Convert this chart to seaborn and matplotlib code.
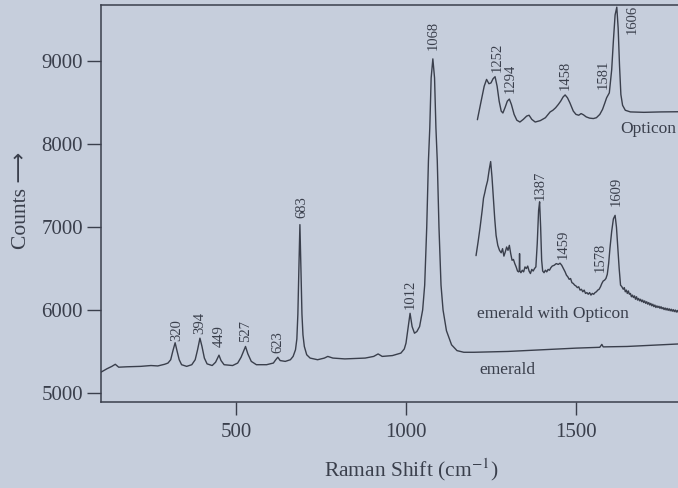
import matplotlib
matplotlib.use("Agg")
import matplotlib.pyplot as plt
import seaborn as sns
import pandas as pd

# ---------------- data ----------------
emerald_x = [103, 120, 135, 145, 155, 180, 220, 250, 270, 290, 300, 308, 314, 321, 327, 333, 340, 355,
             370, 380, 387, 394, 400, 407, 415, 430, 440, 450, 456, 465, 490, 505, 515, 528, 535, 545,
             560, 590, 610, 617, 623, 630, 645, 660, 668, 675, 679, 682, 685, 688, 691, 694, 697, 701,
             708, 718, 740, 760, 770, 785, 820, 880, 905, 918, 930, 960, 985, 995, 1000, 1006, 1012,
             1018, 1025, 1032, 1040, 1049, 1055, 1061, 1066, 1070, 1074, 1079, 1084, 1088, 1092, 1097,
             1103, 1109, 1119, 1134, 1150, 1170, 1200, 1300, 1400, 1500, 1570, 1576, 1580, 1650, 1750, 1800]
emerald_y = [5250, 5290, 5320, 5345, 5310, 5315, 5320, 5330, 5325, 5345, 5360, 5400, 5500, 5605, 5500,
             5400, 5340, 5320, 5340, 5400, 5520, 5660, 5560, 5420, 5350, 5330, 5370, 5455, 5390, 5340,
             5330, 5360, 5430, 5560, 5470, 5380, 5340, 5340, 5360, 5400, 5430, 5390, 5380, 5400, 5440,
             5520, 5650, 5950, 6500, 7030, 6500, 5950, 5700, 5560, 5460, 5420, 5400, 5420, 5440, 5420,
             5410, 5420, 5440, 5470, 5440, 5450, 5480, 5530, 5600, 5780, 5960, 5800, 5720, 5740, 5800,
             6000, 6300, 7000, 7800, 8200, 8800, 9030, 8800, 8200, 7800, 7000, 6300, 6000, 5750, 5580,
             5510, 5490, 5490, 5500, 5520, 5540, 5550, 5585, 5555, 5560, 5580, 5590]

opticon_x = [1210, 1220, 1230, 1237, 1244, 1250, 1256, 1262, 1268, 1274, 1280, 1285, 1292, 1298, 1304,
             1310, 1318, 1326, 1335, 1345, 1355, 1362, 1370, 1380, 1395, 1410, 1424, 1432, 1440, 1448,
             1455, 1462, 1468, 1475, 1482, 1487, 1492, 1500, 1508, 1515, 1522, 1530, 1540, 1551, 1560,
             1570, 1578, 1585, 1590, 1598, 1605, 1610, 1615, 1620, 1624, 1628, 1632, 1637, 1645, 1660,
             1700, 1750, 1800]
opticon_y = [8296, 8500, 8700, 8782, 8730, 8740, 8790, 8815, 8700, 8520, 8400, 8377, 8450, 8520, 8545,
             8480, 8360, 8290, 8268, 8300, 8340, 8350, 8300, 8268, 8285, 8320, 8390, 8410, 8440, 8480,
             8520, 8570, 8595, 8560, 8500, 8450, 8400, 8360, 8350, 8370, 8355, 8330, 8315, 8310, 8320,
             8360, 8420, 8500, 8560, 8620, 8900, 9250, 9560, 9654, 9400, 8950, 8600, 8470, 8410, 8390,
             8385, 8390, 8392]

mix_x = [1206, 1212, 1218, 1224, 1228, 1232, 1235, 1240, 1245, 1249, 1253, 1257, 1261, 1265, 1270, 1275,
         1280, 1284, 1288, 1292, 1296, 1300, 1304, 1308, 1312, 1316, 1320, 1324, 1328, 1331, 1333, 1334,
         1335, 1338, 1342, 1346, 1350, 1354, 1358, 1362, 1366, 1370, 1374, 1378, 1382, 1386, 1390, 1393,
         1396, 1399, 1402, 1406, 1410, 1414, 1418, 1422, 1426, 1430, 1436, 1442, 1448, 1453, 1458, 1463,
         1468, 1472, 1476, 1480, 1484, 1488, 1492, 1496, 1500, 1504, 1508, 1512, 1516, 1520, 1524, 1528,
         1532, 1536, 1540, 1544, 1548, 1552, 1556, 1560, 1564, 1568, 1572, 1576, 1580, 1584, 1588, 1592,
         1596, 1600, 1605, 1610, 1615, 1619, 1623, 1627, 1631, 1635, 1639, 1642, 1645, 1648, 1651, 1654,
         1657, 1660, 1663, 1666, 1669, 1672, 1675, 1678, 1681, 1684, 1687, 1690, 1693, 1696, 1699, 1702,
         1705, 1708, 1711, 1714, 1717, 1720, 1723, 1726, 1729, 1732, 1735, 1738, 1741, 1744, 1747, 1750,
         1753, 1756, 1759, 1762, 1765, 1768, 1771, 1774, 1777, 1780, 1783, 1786, 1789, 1792, 1795, 1798,
         1801]
mix_y = [6656, 6820, 7000, 7200, 7350, 7420, 7480, 7560, 7700, 7791, 7600, 7350, 7100, 6900, 6780, 6720,
         6690, 6740, 6650, 6700, 6760, 6720, 6780, 6680, 6600, 6610, 6560, 6520, 6470, 6460, 6470, 6680,
         6470, 6450, 6480, 6460, 6520, 6500, 6530, 6470, 6440, 6490, 6470, 6500, 6520, 6800, 7200, 7305,
         7000, 6600, 6470, 6450, 6480, 6460, 6490, 6480, 6510, 6530, 6540, 6560, 6550, 6565, 6540, 6500,
         6460, 6420, 6400, 6370, 6380, 6330, 6320, 6300, 6290, 6270, 6280, 6240, 6250, 6220, 6240, 6200,
         6210, 6190, 6210, 6180, 6200, 6190, 6210, 6220, 6240, 6250, 6280, 6320, 6350, 6360, 6380, 6430,
         6560, 6750, 6950, 7100, 7142, 7000, 6750, 6500, 6300, 6280, 6250, 6270, 6220, 6240, 6200, 6230,
         6190, 6200, 6160, 6180, 6150, 6170, 6130, 6160, 6120, 6140, 6110, 6130, 6100, 6120, 6090, 6110,
         6080, 6100, 6070, 6090, 6060, 6080, 6050, 6070, 6040, 6060, 6030, 6050, 6030, 6045, 6020, 6040,
         6015, 6030, 6005, 6025, 6000, 6020, 5995, 6015, 5990, 6010, 5985, 6005, 5980, 6000, 5975, 5995,
         5970]

emerald_labels = ["320", "394", "449", "527", "623", "683", "1012", "1068"]
opticon_labels = ["1252", "1294", "1458", "1581"]
opticon_top_label = "1606"
mix_labels = ["1387", "1459", "1578", "1609"]
series_names = ["emerald", "emerald with Opticon", "Opticon"]
y_ticks = [5000, 6000, 7000, 8000, 9000]
x_ticks = [500, 1000, 1500]

# ---------------- layout / style ----------------
emerald_label_x = [325, 394, 450, 528, 622, 693, 1012, 1080]
emerald_label_y = [5627, 5708, 5550, 5608, 5486, 7106, 6012, 9135]
opticon_label_x = [1267, 1306, 1468, 1580]
opticon_label_y = [8868, 8624, 8649, 8661]
mix_label_x = [1394, 1462, 1571, 1618]
mix_label_y = [7325, 6620, 6462, 7252]

BG = "#c6cedc"
INK = "#3a3f4c"

sns.set_theme(style="white", rc={"axes.facecolor": BG, "figure.facecolor": BG})
plt.rcParams["font.family"] = ["Liberation Serif", "DejaVu Sans"]
plt.rcParams["mathtext.fontset"] = "stix"

fig = plt.figure(figsize=(6.78, 4.88), dpi=100)
ax = fig.add_axes([101 / 678, (488 - 402) / 488, 1 - 101 / 678, (402 - 5) / 488])

for xs, ys in [(emerald_x, emerald_y), (opticon_x, opticon_y), (mix_x, mix_y)]:
    df = pd.DataFrame({"shift": xs, "counts": ys})
    sns.lineplot(data=df, x="shift", y="counts", ax=ax, color=INK, linewidth=1.0,
                 estimator=None, sort=False)

ax.set_xlim(103, 1800)
ax.set_ylim(4890, 9680)
ax.set_xticks(x_ticks)
ax.set_yticks(y_ticks)
ax.set_xticklabels([str(t) for t in x_ticks])
ax.set_yticklabels([str(t) for t in y_ticks])
ax.tick_params(axis="y", direction="out", length=10, width=1.0, pad=3, labelsize=15,
               colors=INK, left=True)
ax.tick_params(axis="x", direction="out", length=9, width=1.0, pad=6, labelsize=15,
               colors=INK, bottom=True)

for side in ["left", "bottom", "top"]:
    ax.spines[side].set_color(INK)
    ax.spines[side].set_linewidth(1.1)
ax.spines["right"].set_visible(False)

ax.set_xlabel(r"Raman Shift (cm$^{-1}$)", fontsize=15.5, color=INK, va="center")
ax.xaxis.set_label_coords((411 - 101) / 577, (402 - 470) / 397)
ax.set_ylabel("Counts \u27f6", fontsize=15.5, color=INK, va="center")
ax.yaxis.set_label_coords((22 - 101) / 577, (402 - 200) / 397)

lab_kw = dict(rotation=90, ha="center", va="bottom", fontsize=10.5, color=INK)
for t, x, y in zip(emerald_labels, emerald_label_x, emerald_label_y):
    ax.text(x, y, t, **lab_kw)
for t, x, y in zip(opticon_labels, opticon_label_x, opticon_label_y):
    ax.text(x, y, t, **lab_kw)
for t, x, y in zip(mix_labels, mix_label_x, mix_label_y):
    ax.text(x, y, t, **lab_kw)
ax.text(1665, 9683, opticon_top_label, rotation=90, ha="center", va="top", fontsize=10.5, color=INK)

ax.text(1297, 5280, series_names[0], ha="center", va="center", fontsize=12.5, color=INK)
ax.text(1432, 5948, series_names[1], ha="center", va="center", fontsize=12.5, color=INK)
ax.text(1629, 8187, series_names[2], ha="left", va="center", fontsize=12.5, color=INK)

fig.savefig("out.png", dpi=100, facecolor=BG)
